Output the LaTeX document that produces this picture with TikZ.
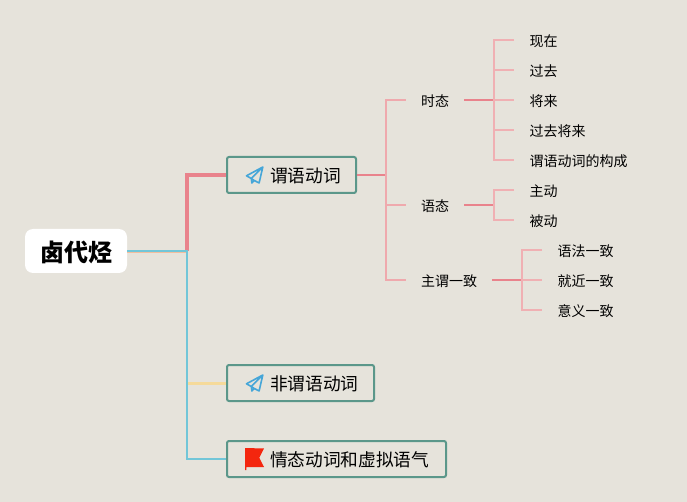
\documentclass[tikz,border=0pt]{standalone}
\usepackage{fontspec}
\setmainfont{Noto Sans CJK SC}
\definecolor{bgc}{HTML}{E6E3DB}
\definecolor{boxc}{HTML}{5B978A}
\definecolor{pinka}{HTML}{E9838C}
\definecolor{pinkb}{HTML}{EFA9AD}
\definecolor{pinkc}{HTML}{F0B0B3}
\definecolor{cyanc}{HTML}{72C6D8}
\definecolor{yelc}{HTML}{F5DA9A}
\definecolor{orac}{HTML}{F3BE9E}
\definecolor{planec}{HTML}{46A6D8}
\definecolor{flagc}{HTML}{F4260E}
\newcommand{\planeicon}[2]{%
  \begin{scope}[shift={(#1,#2)}]
    \draw[planec,line width=1.6pt,line join=round]
      (8.3,-8) -- (-8,0.8) -- (-3.2,3.5) -- (8.3,-8) -- (4.6,8) -- (-0.4,5.4) -- (-3.2,3.5) -- (-2.6,8) -- (-0.4,5.4);
  \end{scope}}
\newcommand{\flagicon}[2]{%
  \begin{scope}[shift={(#1,#2)}]
    \fill[flagc] (-9,-10) -- (10,-9.5) -- (5.3,-0.3) -- (10,9) -- (-7.6,9) -- (-7.6,12) -- (-9,12) -- cycle;
  \end{scope}}
\newcommand{\toplabel}[1]{\raisebox{-7.7pt}[0pt][0pt]{\hspace{43pt}#1}}
\tikzset{
  rootbox/.style={fill=white,rounded corners=8pt,minimum width=102pt,minimum height=44pt,inner sep=0pt,outer sep=0pt},
  topicbox/.style={draw=boxc,line width=2pt,rounded corners=2pt,anchor=west,outer sep=0pt,minimum height=36pt,inner sep=0pt,font=\fontsize{17.7}{20}\selectfont},
  subtopic/.style={anchor=center,inner xsep=15pt,inner ysep=2pt,font=\fontsize{14}{16}\selectfont},
  leaf/.style={anchor=west,inner xsep=15.5pt,inner ysep=2pt,font=\fontsize{14}{16}\selectfont},
  linka/.style={pinkb,line width=2pt},
  linkb/.style={pinkc,line width=2pt},
  linkc/.style={pinka,line width=2pt},
}
\begin{document}
\begin{tikzpicture}[x=1pt,y=-1pt]
\useasboundingbox (0,0) rectangle (687,502);
\fill[bgc] (0,0) rectangle (687,502);
% coordinates of the junctions
\coordinate (jroot) at (187,251);
\coordinate (ja) at (386,175);
\coordinate (jb) at (494,100);
\coordinate (jc) at (494,205);
\coordinate (jd) at (522,280);
% nodes
\node[rootbox] (root) at (76,251) {\raisebox{-10.5pt}[0pt][0pt]{\hspace{1pt}\fontsize{24}{26}\selectfont\bfseries 卤代烃}};
\node[topicbox,minimum width=129pt,text width=129pt,align=left] (t1) at (227,175) {\toplabel{谓语动词}};
\node[topicbox,minimum width=147pt,text width=147pt,align=left] (t2) at (227,383) {\toplabel{非谓语动词}};
\node[topicbox,minimum width=219pt,text width=219pt,align=left] (t3) at (227,459) {\toplabel{情态动词和虚拟语气}};
\node[subtopic] (s1) at (435,101.5) {时态};
\node[subtopic] (s2) at (435,206.5) {语态};
\node[subtopic] (s3) at (449,281.5) {主谓一致};
\node[leaf] (a1) at (514,41.5) {现在};
\node[leaf] (a2) at (514,71.5) {过去};
\node[leaf] (a3) at (514,101.5) {将来};
\node[leaf] (a4) at (514,131.5) {过去将来};
\node[leaf] (a5) at (514,161.5) {谓语动词的构成};
\node[leaf] (b1) at (514,191.5) {主动};
\node[leaf] (b2) at (514,221.5) {被动};
\node[leaf] (c1) at (542,251.5) {语法一致};
\node[leaf] (c2) at (542,281.5) {就近一致};
\node[leaf] (c3) at (542,311.5) {意义一致};
% icons
\planeicon{254.5}{175}
\planeicon{254.5}{383}
\flagicon{254}{458}
% root connectors
\draw[orac,line width=1.2pt] ([yshift=-1.5pt]root.east) -- ([yshift=-1.5pt]jroot);
\draw[yelc,line width=3pt] (jroot |- t2.west) -- ([xshift=-1pt]t2.west);
\draw[pinka,line width=4.5pt,line join=miter] (jroot) -- (jroot |- t1.west) -- ([xshift=-1pt]t1.west);
\draw[cyanc,line width=2pt] (root.east) -- (jroot) -- (jroot |- t3.west) -- ([xshift=-1pt]t3.west);
% topic to subtopics
\draw[linkc] ([xshift=1pt]t1.east) -- (ja);
\draw[linka] (s1.west |- jb) -| (ja |- jd) -- (s3.west |- jd);
\draw[linka] (ja |- jc) -- (s2.west |- jc);
% subtopic to leaves
\draw[linkc] (s1.east |- jb) -- (jb);
\draw[linkb] (a1.west |- 0,40) -| (jb |- 0,160) -- (a5.west |- 0,160);
\draw[linkb] (jb |- 0,70) -- (a2.west |- 0,70);
\draw[linkb] (jb) -- (a3.west |- jb);
\draw[linkb] (jb |- 0,130) -- (a4.west |- 0,130);
\draw[linkc] (s2.east |- jc) -- (jc);
\draw[linkb] (b1.west |- 0,190) -| (jc |- 0,220) -- (b2.west |- 0,220);
\draw[linkc] (s3.east |- jd) -- (jd);
\draw[linkb] (c1.west |- 0,250) -| (jd |- 0,310) -- (c3.west |- 0,310);
\draw[linkb] (jd) -- (c2.west |- jd);
\end{tikzpicture}
\end{document}
